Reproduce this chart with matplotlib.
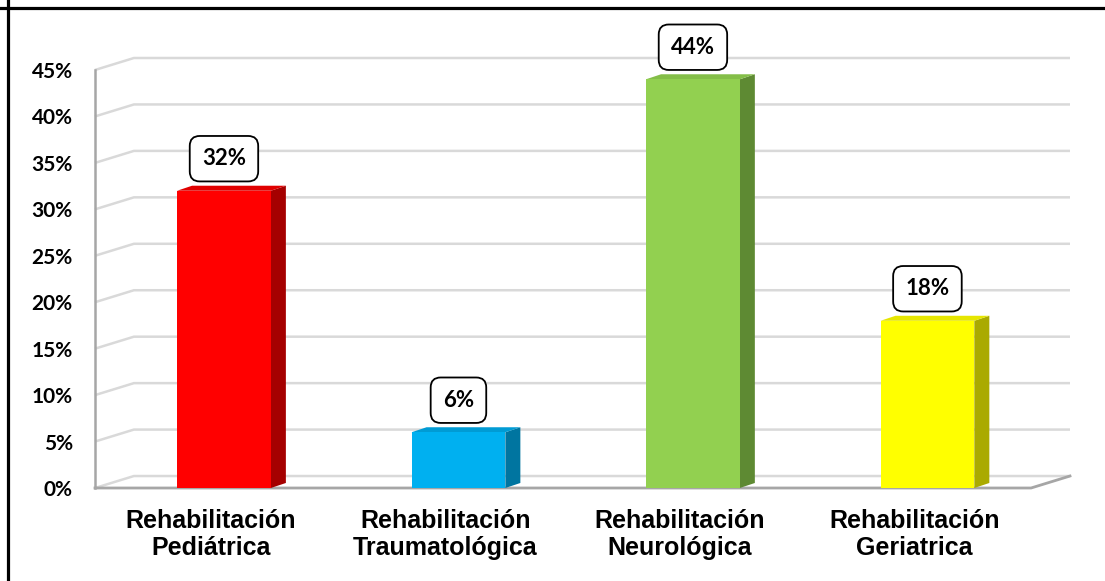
import numpy as np
import matplotlib.pyplot as plt
from matplotlib.patches import Polygon
from matplotlib.lines import Line2D
from matplotlib.transforms import ScaledTranslation

categories = ["Rehabilitación\nPediátrica", "Rehabilitación\nTraumatológica",
              "Rehabilitación\nNeurológica", "Rehabilitación\nGeriatrica"]
values = [32, 6, 44, 18]
value_labels = ["32%", "6%", "44%", "18%"]
y_ticks = [0, 5, 10, 15, 20, 25, 30, 35, 40, 45]

front_colors = ["#FF0000", "#00B0F0", "#92D050", "#FFFF00"]
side_colors = ["#A50000", "#0075A0", "#5E8A33", "#AAAA00"]
top_colors = ["#E00000", "#009BD4", "#84BE48", "#E6E600"]

W, H = 1105, 581
fig = plt.figure(figsize=(W / 100, H / 100), dpi=100)

# axes placed in pixels: left 95, right 1070, top 58, bottom 488
ax = fig.add_axes([95 / W, (H - 488) / H, 975 / W, 430 / H])
x0, x1 = -0.55, 3.608
ymax = 46.29
ax.set_xlim(x0, x1)
ax.set_ylim(0, ymax)

# depth offsets of the 3d look (data units)
wall_dx, wall_dy = 0.166, 1.29
bar_dx, bar_dy = 0.064, 0.54
bar_w = 0.4

grid_c = "#D9D9D9"
axis_c = "#A6A6A6"

for v in y_ticks:
    ax.plot([x0, x0 + wall_dx, x1], [v, v + wall_dy, v + wall_dy],
            color=grid_c, lw=1.8, zorder=1, clip_on=False, solid_capstyle="butt")

# front left edge and floor edge
ax.plot([x0, x0], [0, y_ticks[-1]], color=axis_c, lw=1.8, zorder=2, clip_on=False)
ax.plot([x0, x1 - wall_dx, x1], [0, 0, wall_dy], color=axis_c, lw=2,
        zorder=2, clip_on=False)

x = np.arange(len(values))
ax.bar(x, values, width=bar_w, color=front_colors, zorder=4)

for xi, v, sc, tc in zip(x, values, side_colors, top_colors):
    r = xi + bar_w / 2
    l = xi - bar_w / 2
    ax.add_patch(Polygon([(r, 0), (r + bar_dx, bar_dy), (r + bar_dx, v + bar_dy), (r, v)],
                         closed=True, facecolor=sc, edgecolor="none", zorder=3))
    ax.add_patch(Polygon([(l, v), (l + bar_dx, v + bar_dy), (r + bar_dx, v + bar_dy), (r, v)],
                         closed=True, facecolor=tc, edgecolor="none", zorder=3))

for xi, v, lab in zip(x, values, value_labels):
    ax.text(xi, v + 3.45, lab, ha="center", va="center", fontsize=16,
            fontweight="bold", family="Lato", zorder=6, clip_on=False,
            bbox=dict(boxstyle="round,pad=0.55,rounding_size=0.45",
                      facecolor="white", edgecolor="black", lw=1.3))

ax.set_yticks(y_ticks)
ax.set_yticklabels([f"{t}%" for t in y_ticks], fontsize=15, fontweight="bold",
                   family="Lato")
ax.tick_params(axis="y", length=0, pad=16)

ax.set_xticks(x)
ax.set_xticklabels(categories, fontsize=18, fontweight="bold",
                   family="Liberation Sans", linespacing=1.15)
ax.tick_params(axis="x", length=0, pad=15)
shift = ScaledTranslation(-13 / 100, 0, fig.dpi_scale_trans)
for t in ax.get_xticklabels():
    t.set_transform(t.get_transform() + shift)

for s in ax.spines.values():
    s.set_visible(False)
ax.patch.set_visible(False)

# chart frame (only top and left visible)
fig.add_artist(Line2D([0, 1], [(H - 8) / H, (H - 8) / H], transform=fig.transFigure,
                      color="black", lw=2.3))
fig.add_artist(Line2D([8 / W, 8 / W], [0, 1], transform=fig.transFigure,
                      color="black", lw=2.3))

fig.savefig("out.png", dpi=100)
